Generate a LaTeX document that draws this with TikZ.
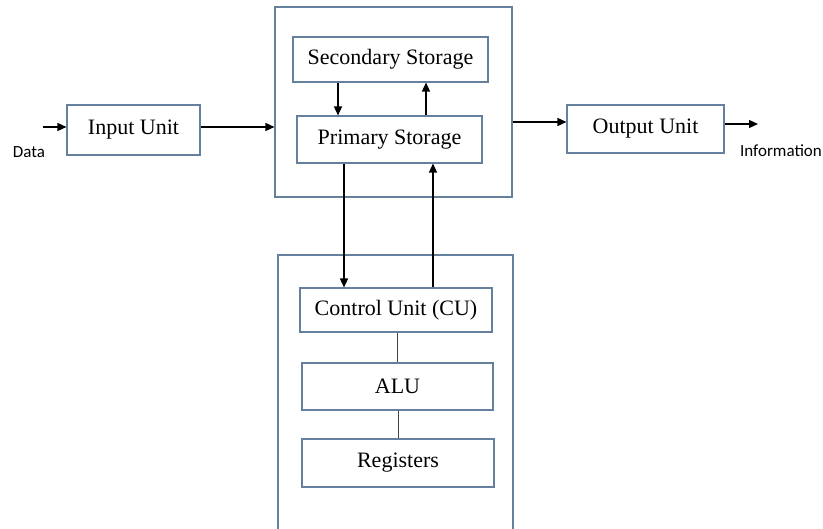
\documentclass[tikz,border=0pt]{standalone}
\usepackage{fontspec}
\setmainfont{Liberation Serif}
\newfontfamily\labelfont{Carlito}
\usetikzlibrary{arrows.meta,calc}
\definecolor{boxline}{RGB}{100,128,156}
\tikzset{
  unitbox/.style={draw=boxline, line width=1.1pt, fill=white, rectangle, inner sep=0pt,
    font=\fontsize{22}{26}\selectfont},
  frame/.style={draw=boxline, line width=1.1pt, rectangle, inner sep=0pt},
  arr/.style={draw=black, line width=1.3pt, -{Triangle[length=9pt,width=8pt]}},
  link/.style={draw=black!75, line width=0.9pt},
  iolabel/.style={font=\labelfont\fontsize{17}{20}\selectfont, inner sep=0pt}
}
\begin{document}
\begin{tikzpicture}[x=1pt,y=-1pt]
  \useasboundingbox (0,0) rectangle (823,529);
  \fill[white] (0,0) rectangle (823,529);

  % containers
  \node[frame, minimum width=237pt, minimum height=190pt] (top) at (393.5,102) {};
  \node[frame, minimum width=235pt, minimum height=290pt] (cpu) at (395.5,400) {};

  % units
  \node[unitbox, minimum width=133pt, minimum height=50pt] (in) at (133.5,130) {Input Unit};
  \node[unitbox, minimum width=195pt, minimum height=45pt] (sec) at (390.5,59.5) {Secondary Storage};
  \node[unitbox, minimum width=185pt, minimum height=47pt] (pri) at (389.5,139.5) {Primary Storage};
  \node[unitbox, minimum width=157pt, minimum height=48pt] (out) at (645.5,129) {Output Unit};
  \node[unitbox, minimum width=192pt, minimum height=44pt] (cu) at (396,310) {Control Unit (CU)};
  \node[unitbox, minimum width=191pt, minimum height=47pt] (alu) at (397.5,386.5) {ALU};
  \node[unitbox, minimum width=192pt, minimum height=48pt] (reg) at (398,463) {Registers};

  % free ends and routing guides
  \coordinate (datain) at (43,127);
  \coordinate (infoend) at (758,124);
  \coordinate (rowA) at (0,127);
  \coordinate (rowB) at (0,122);
  \coordinate (colA) at (338,0);
  \coordinate (colB) at (426,0);
  \coordinate (colC) at (344,0);
  \coordinate (colD) at (433,0);
  \coordinate (colE) at (397,0);
  \coordinate (colF) at (398.5,0);

  % labels
  \node[iolabel] (data) at (29,152) {Data};
  \node[iolabel] (info) at (781,151) {Information};

  % data flow
  \draw[arr] (datain) -- (datain -| in.west);
  \draw[arr] (rowA -| in.east) -- (rowA -| top.west);
  \draw[arr] (rowB -| top.east) -- (rowB -| out.west);
  \draw[arr] (infoend -| out.east) -- (infoend);

  \draw[arr] (colA |- sec.south) -- (colA |- pri.north);
  \draw[arr] (colB |- pri.north) -- (colB |- sec.south);
  \draw[arr] (colC |- pri.south) -- (colC |- cu.north);
  \draw[arr] (colD |- cu.north) -- (colD |- pri.south);

  \draw[link] (colE |- cu.south) -- (colE |- alu.north);
  \draw[link] (colF |- alu.south) -- (colF |- reg.north);
\end{tikzpicture}
\end{document}
